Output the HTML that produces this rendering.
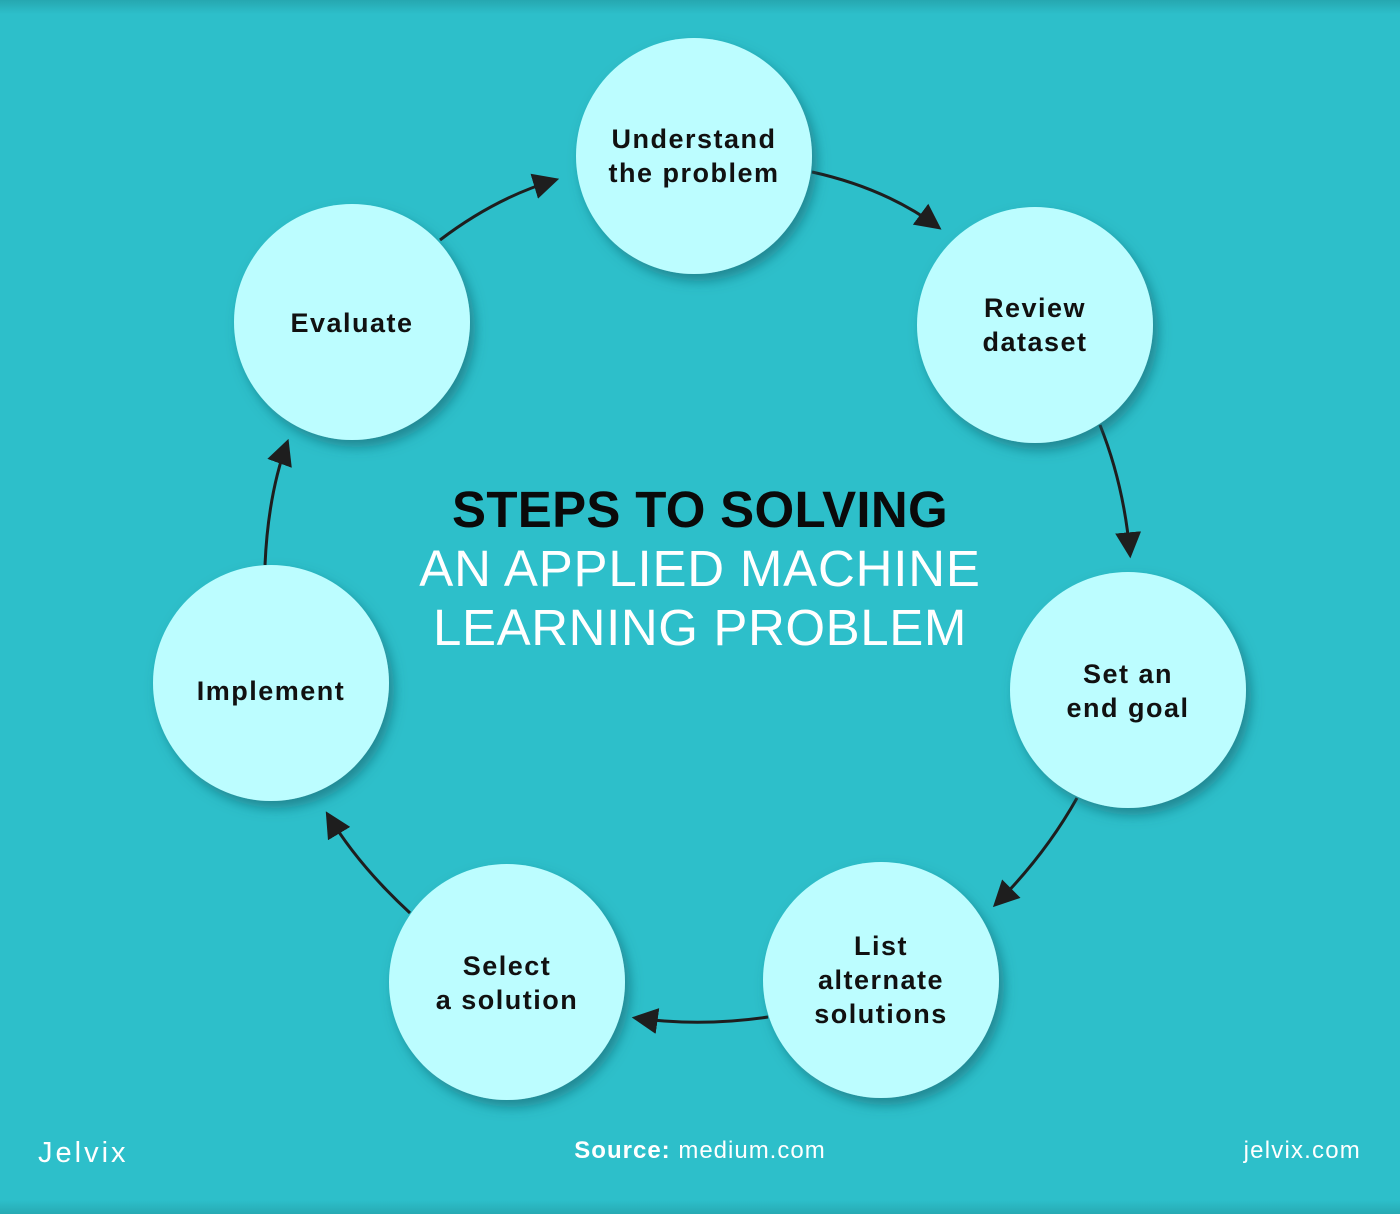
<!DOCTYPE html>
<html>
<head>
<meta charset="utf-8">
<style>
  html,body{margin:0;padding:0;}
  body{width:1400px;height:1214px;overflow:hidden;background:#2dbfca;}
  svg{display:block;}
</style>
</head>
<body>
<svg width="1400" height="1214" viewBox="0 0 1400 1214" xmlns="http://www.w3.org/2000/svg">
  <defs>
    <linearGradient id="topband" x1="0" y1="0" x2="0" y2="1">
      <stop offset="0" stop-color="#26a7b0"/>
      <stop offset="1" stop-color="#2dbfca"/>
    </linearGradient>
    <linearGradient id="botband" x1="0" y1="0" x2="0" y2="1">
      <stop offset="0" stop-color="#2dbfca"/>
      <stop offset="1" stop-color="#27aab3"/>
    </linearGradient>
    <filter id="sh" x="-30%" y="-30%" width="160%" height="160%">
      <feDropShadow dx="5" dy="7" stdDeviation="6" flood-color="#0b5a63" flood-opacity="0.55"/>
    </filter>
    <marker id="ah" markerUnits="userSpaceOnUse" markerWidth="26" markerHeight="26" viewBox="0 0 24 24" refX="20" refY="12" orient="auto">
      <path d="M0,0 L24,12 L0,24 z" fill="#1e1e1e"/>
    </marker>
  </defs>

  <rect x="0" y="0" width="1400" height="1214" fill="#2dbfca"/>
  <rect x="0" y="0" width="1400" height="14" fill="url(#topband)"/>
  <rect x="0" y="1200" width="1400" height="14" fill="url(#botband)"/>

  <!-- connectors -->
  <g fill="none" stroke="#1e1e1e" stroke-width="3" marker-end="url(#ah)">
    <path d="M812,172 Q885,188 938,227"/>
    <path d="M1100,425 Q1124,485 1130,554"/>
    <path d="M1077,798 Q1045,855 996,904"/>
    <path d="M768,1017 Q700,1027 636,1018"/>
    <path d="M410,913 Q358,865 328,815"/>
    <path d="M265,565 Q268,495 287,443"/>
    <path d="M440,240 Q495,198 555,180"/>
  </g>

  <!-- circles -->
  <g fill="#bcfdff" filter="url(#sh)">
    <circle cx="694" cy="156" r="118"/>
    <circle cx="1035" cy="325" r="118"/>
    <circle cx="1128" cy="690" r="118"/>
    <circle cx="881" cy="980" r="118"/>
    <circle cx="507" cy="982" r="118"/>
    <circle cx="271" cy="683" r="118"/>
    <circle cx="352" cy="322" r="118"/>
  </g>

  <!-- labels -->
  <g font-family="'Liberation Sans', sans-serif" font-weight="bold" font-size="27" fill="#111" text-anchor="middle" letter-spacing="1.5">
    <text x="694" y="148">Understand</text>
    <text x="694" y="182">the problem</text>
    <text x="1035" y="317">Review</text>
    <text x="1035" y="351">dataset</text>
    <text x="1128" y="683">Set an</text>
    <text x="1128" y="717">end goal</text>
    <text x="881" y="955">List</text>
    <text x="881" y="989">alternate</text>
    <text x="881" y="1023">solutions</text>
    <text x="507" y="975">Select</text>
    <text x="507" y="1009">a solution</text>
    <text x="271" y="700">Implement</text>
    <text x="352" y="332">Evaluate</text>
  </g>

  <!-- title -->
  <g font-family="'Liberation Sans', sans-serif" text-anchor="middle">
    <text x="700" y="527" font-size="51" font-weight="bold" fill="#0a0a0a" letter-spacing="0.3">STEPS TO SOLVING</text>
    <text x="700" y="586" font-size="51" fill="#ffffff" letter-spacing="0.8">AN APPLIED MACHINE</text>
    <text x="700" y="645" font-size="51" fill="#ffffff" letter-spacing="0.6">LEARNING PROBLEM</text>
  </g>

  <!-- footer -->
  <g font-family="'Liberation Sans', sans-serif" fill="#ffffff" font-size="24">
    <text x="38" y="1162" font-size="29" letter-spacing="3">Jelvix</text>
    <text x="700" y="1158" text-anchor="middle" letter-spacing="1"><tspan font-weight="bold">Source:</tspan> medium.com</text>
    <text x="1361" y="1158" text-anchor="end" letter-spacing="1.2">jelvix.com</text>
  </g>
</svg>
</body>
</html>
